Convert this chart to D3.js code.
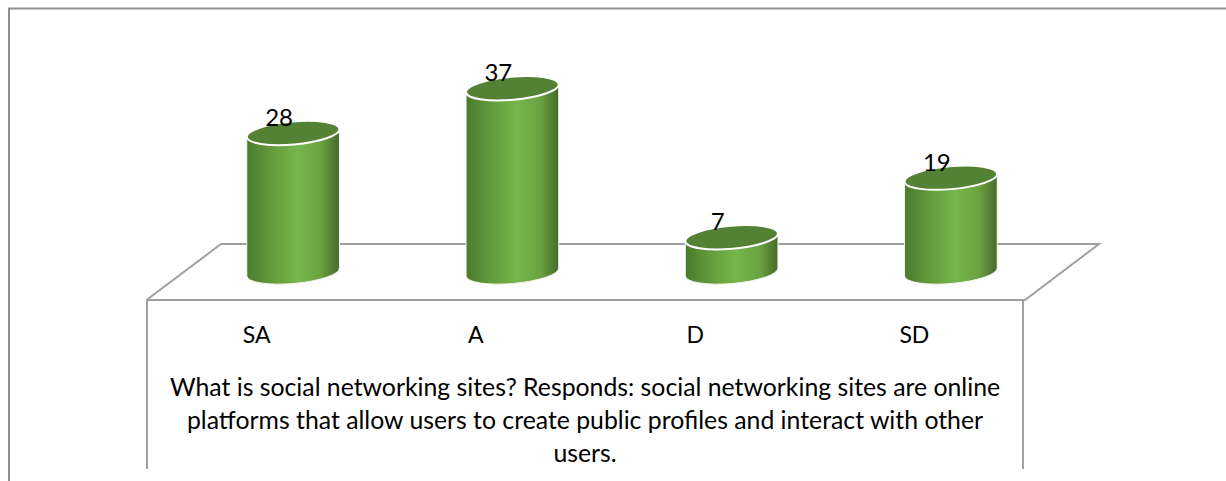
<!DOCTYPE html>
<html>
<head>
<meta charset="utf-8">
<script src="https://cdn.jsdelivr.net/npm/d3@7"></script>
<style>
  html, body { margin: 0; padding: 0; background: #fff; }
  svg { display: block; }
  text { font-family: Lato, "Open Sans", sans-serif; fill: #000; }
</style>
</head>
<body>
<div id="chart-area"></div>
<script>
var categories = ["SA", "A", "D", "SD"];
var values = [28, 37, 7, 19];
var titleLines = [
    "What is social networking sites? Responds: social networking sites are online",
    "platforms that allow users to create public profiles and interact with other",
    "users."
];

var width = 1226;
var height = 481;
var rx = 46.5, ry = 11.5, tilt = -5;
// ends of the ellipse axis, relative to its centre
var dx = rx * Math.cos(tilt * Math.PI / 180);
var dy = rx * Math.sin(tilt * Math.PI / 180);

var svg = d3.select("#chart-area").append("svg")
    .attr("width", width)
    .attr("height", height);

var grad = svg.append("defs").append("linearGradient")
    .attr("id", "cyl")
    .attr("x1", "0").attr("x2", "1").attr("y1", "0").attr("y2", "0");
grad.append("stop").attr("offset", "0%").attr("stop-color", "#4a7a2c");
grad.append("stop").attr("offset", "22%").attr("stop-color", "#5f9639");
grad.append("stop").attr("offset", "55%").attr("stop-color", "#76b64b");
grad.append("stop").attr("offset", "80%").attr("stop-color", "#6aa340");
grad.append("stop").attr("offset", "100%").attr("stop-color", "#47692b");

var x = d3.scaleBand()
    .domain(categories)
    .range([183.5, 1060.5])
    .paddingInner(0.58)
    .paddingOuter(0.29);

var y = d3.scaleLinear()
    .domain([0, 37])
    .range([272, 88.3]);

// outer frame, cut off by the crop on the right and bottom
svg.append("path")
    .attr("d", "M9,481V8.5H1226")
    .attr("fill", "none")
    .attr("stroke", "#8f8f8f")
    .attr("stroke-width", 2);

// floor and the box under it
var gray = "#a0a0a0";
svg.append("path")
    .attr("d", "M146.5,300L221,244H1099L1025,300H146.5")
    .attr("fill", "none")
    .attr("stroke", gray)
    .attr("stroke-width", 2);
svg.append("path")
    .attr("d", "M147,300V469M1023,300V469")
    .attr("fill", "none")
    .attr("stroke", gray)
    .attr("stroke-width", 2);

var bars = svg.selectAll("g.bar")
    .data(categories)
    .enter().append("g")
    .attr("class", "bar")
    .attr("transform", d => "translate(" + (x(d) + x.bandwidth() / 2) + ",0)");

bars.append("path")
    .attr("d", (d, i) => {
        var top = y(values[i]), bot = y(0);
        return "M" + (-dx) + "," + (top - dy)
            + "L" + (-dx) + "," + (bot - dy)
            + "A" + rx + "," + ry + " " + tilt + " 0 0 " + dx + "," + (bot + dy)
            + "L" + dx + "," + (top + dy) + "Z";
    })
    .attr("fill", "url(#cyl)")
    .attr("stroke", "#f2f2f2")
    .attr("stroke-width", 1);

bars.append("ellipse")
    .attr("rx", rx)
    .attr("ry", ry)
    .attr("transform", (d, i) => "translate(0," + y(values[i]) + ") rotate(" + tilt + ")")
    .attr("fill", "#548235")
    .attr("stroke", "#fff")
    .attr("stroke-width", 2);

bars.append("text")
    .attr("x", -14)
    .attr("y", (d, i) => y(values[i]) - 7)
    .attr("text-anchor", "middle")
    .attr("font-size", "24px")
    .text((d, i) => values[i]);

var bottomAxis = d3.axisBottom(x).tickSize(0).tickPadding(0);
var axisG = svg.append("g")
    .attr("transform", "translate(-36.5,327)")
    .call(bottomAxis);
axisG.select(".domain").remove();
axisG.selectAll("text")
    .attr("font-size", "23px")
    .style("font-family", 'Lato, "Open Sans", sans-serif');

svg.selectAll("text.title")
    .data(titleLines)
    .enter().append("text")
    .attr("class", "title")
    .attr("x", 585)
    .attr("y", (d, i) => 396 + i * 33)
    .attr("text-anchor", "middle")
    .attr("font-size", "24.8px")
    .text(d => d);
</script>
</body>
</html>
